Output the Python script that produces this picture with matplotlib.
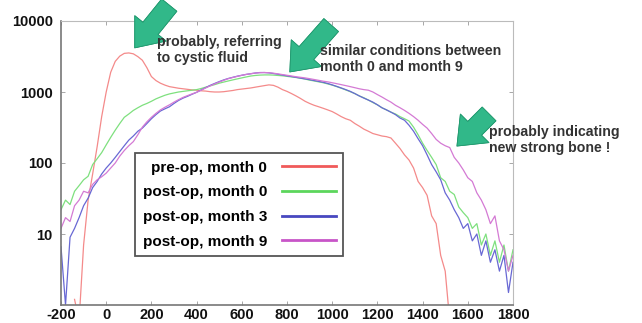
import numpy as np
import matplotlib
matplotlib.use('Agg')
import matplotlib.pyplot as plt
from matplotlib.lines import Line2D

plt.rcParams['font.family'] = ['Liberation Sans', 'DejaVu Sans']
plt.rcParams['font.weight'] = 'bold'
plt.rcParams['axes.unicode_minus'] = False

# histogram bins, -200 .. 1800 in steps of 20
bins = np.arange(-200, 1801, 20)
nan = np.nan

pre_op_m0 = [nan, nan, nan, 1.2, 0.6, 7, 30, 70, 170, 450,
             1000, 1900, 2700, 3200, 3500, 3550, 3450, 3150, 2800, 2200,
             1650, 1450, 1330, 1250, 1190, 1160, 1130, 1110, 1090, 1070,
             1060, 1040, 1030, 1010, 1000, 1000, 1010, 1030, 1050, 1080,
             1100, 1120, 1140, 1170, 1200, 1230, 1260, 1240, 1170, 1080,
             1020, 950, 880, 810, 740, 690, 650, 620, 590, 560,
             530, 490, 450, 420, 400, 360, 330, 300, 280, 260,
             250, 240, 235, 225, 190, 160, 130, 110, 85, 55,
             45, 35, 18, 14, 5, 3, 0.6, nan, nan, nan,
             nan, nan, nan, nan, nan, nan, nan, nan, nan, nan, nan]

post_op_m0 = [22, 30, 26, 40, 48, 58, 65, 95, 115, 140,
              180, 230, 290, 360, 440, 490, 550, 600, 650, 690,
              740, 800, 850, 900, 940, 970, 1000, 1020, 1040, 1060,
              1080, 1120, 1170, 1220, 1270, 1330, 1380, 1430, 1480, 1530,
              1580, 1630, 1680, 1710, 1730, 1740, 1740, 1730, 1710, 1690,
              1660, 1630, 1600, 1560, 1520, 1470, 1430, 1390, 1350, 1300,
              1250, 1190, 1130, 1070, 1010, 950, 880, 830, 770, 710,
              660, 600, 560, 520, 490, 450, 420, 390, 320, 250,
              190, 150, 120, 95, 62, 55, 40, 36, 24, 20,
              17, 12, 14, 7, 10, 5, 8, 4, 7, 3, 6]

post_op_m3 = [6.6, 1.0, 9, 12, 17, 25, 32, 45, 55, 70,
              85, 100, 120, 145, 175, 210, 240, 280, 310, 360,
              420, 480, 540, 580, 620, 690, 760, 820, 870, 930,
              990, 1070, 1150, 1240, 1320, 1400, 1480, 1550, 1610, 1670,
              1720, 1770, 1810, 1850, 1880, 1880, 1860, 1820, 1780, 1730,
              1690, 1650, 1610, 1570, 1530, 1490, 1450, 1410, 1370, 1320,
              1260, 1200, 1140, 1080, 1020, 950, 880, 820, 770, 720,
              660, 600, 560, 520, 480, 430, 400, 340, 280, 220,
              175, 130, 95, 75, 58, 38, 30, 22, 17, 12,
              14, 8, 10, 5, 8, 4, 6, 3, 5, 1.5, 4]

post_op_m9 = [12, 17, 15, 25, 30, 40, 38, 50, 58, 64,
              72, 85, 100, 125, 150, 175, 200, 250, 320, 380,
              440, 500, 560, 610, 660, 720, 780, 840, 890, 940,
              990, 1060, 1140, 1220, 1300, 1380, 1460, 1540, 1600, 1660,
              1720, 1770, 1810, 1850, 1870, 1880, 1870, 1840, 1800, 1760,
              1720, 1680, 1640, 1610, 1580, 1540, 1500, 1460, 1420, 1390,
              1350, 1310, 1270, 1230, 1190, 1150, 1110, 1080, 1060, 1000,
              920, 850, 780, 720, 650, 600, 550, 500, 450, 400,
              350, 310, 260, 215, 190, 175, 165, 120, 100, 80,
              62, 55, 38, 30, 22, 14, 18, 8, 6, 3, 5]

labels = ['pre-op, month 0', 'post-op, month 0', 'post-op, month 3', 'post-op, month 9']
curve_colors = ['#f48a8a', '#7ee07e', '#6868d4', '#d47ad4']
legend_colors = ['#f05a5a', '#5cd65c', '#4848c0', '#c855c8']

fig = plt.figure(figsize=(6.42, 3.23), dpi=100)
ax = fig.add_axes([61 / 642, 18 / 323, 452 / 642, 284 / 323])

for series, col in zip([pre_op_m0, post_op_m0, post_op_m3, post_op_m9], curve_colors):
    ax.plot(bins, series, color=col, linewidth=0.9)

ax.set_yscale('log')
ax.set_xlim(-200, 1800)
ax.set_ylim(1, 10000)
ax.set_xticks(np.arange(-200, 1801, 200))
ax.set_yticks([10, 100, 1000, 10000])
ax.set_yticklabels(['10', '100', '1000', '10000'])
ax.yaxis.set_minor_locator(matplotlib.ticker.NullLocator())
ax.tick_params(direction='in', length=3, width=0.6, colors='#999999',
               labelcolor='#111111', labelsize=10.5, top=True, right=True)
ax.tick_params(axis='x', pad=2)
ax.tick_params(axis='y', pad=6)

for side in ['left', 'bottom']:
    ax.spines[side].set_color('#777777')
    ax.spines[side].set_linewidth(1.2)
for side in ['top', 'right']:
    ax.spines[side].set_color('#bbbbbb')
    ax.spines[side].set_linewidth(0.8)

# legend with line samples after the text
handles = [Line2D([], [], color=c, linewidth=2) for c in legend_colors]
leg = ax.legend(handles, labels, loc='upper left',
                bbox_to_anchor=(135 / 642, 1 - 153 / 323), bbox_transform=fig.transFigure,
                borderaxespad=0, markerfirst=False, fancybox=False, framealpha=1,
                edgecolor='#555555', fontsize=11, handlelength=3.5, handletextpad=1.0,
                labelspacing=0.7, borderpad=0.5)
leg.get_frame().set_linewidth(1.3)

# the green block arrows and their notes (figure pixels)
arrow_style = 'simple,head_length=0.9,head_width=1.45,tail_width=0.7'
arrows = [((133, 273), (171, 320)), ((288, 249), (333, 300)), ((455, 175), (491, 211))]
for tip, tail in arrows:
    fig.add_artist(plt.annotate('', xy=tip, xytext=tail, xycoords='figure pixels',
                                textcoords='figure pixels',
                                arrowprops=dict(arrowstyle=arrow_style, mutation_scale=20,
                                                facecolor='#31b889', edgecolor='#239a70',
                                                linewidth=0.6)))

note_kw = dict(fontsize=10.2, color='#333333', fontweight='bold', va='top', ha='left',
               linespacing=1.2)
fig.text(157 / 642, 1 - 35 / 323, 'probably, referring\nto cystic fluid', **note_kw)
fig.text(320 / 642, 1 - 44 / 323, 'similar conditions between\nmonth 0 and month 9', **note_kw)
fig.text(489 / 642, 1 - 125 / 323, 'probably indicating\nnew strong bone !', **note_kw)

plt.savefig('out.png', dpi=100)
plt.close()
